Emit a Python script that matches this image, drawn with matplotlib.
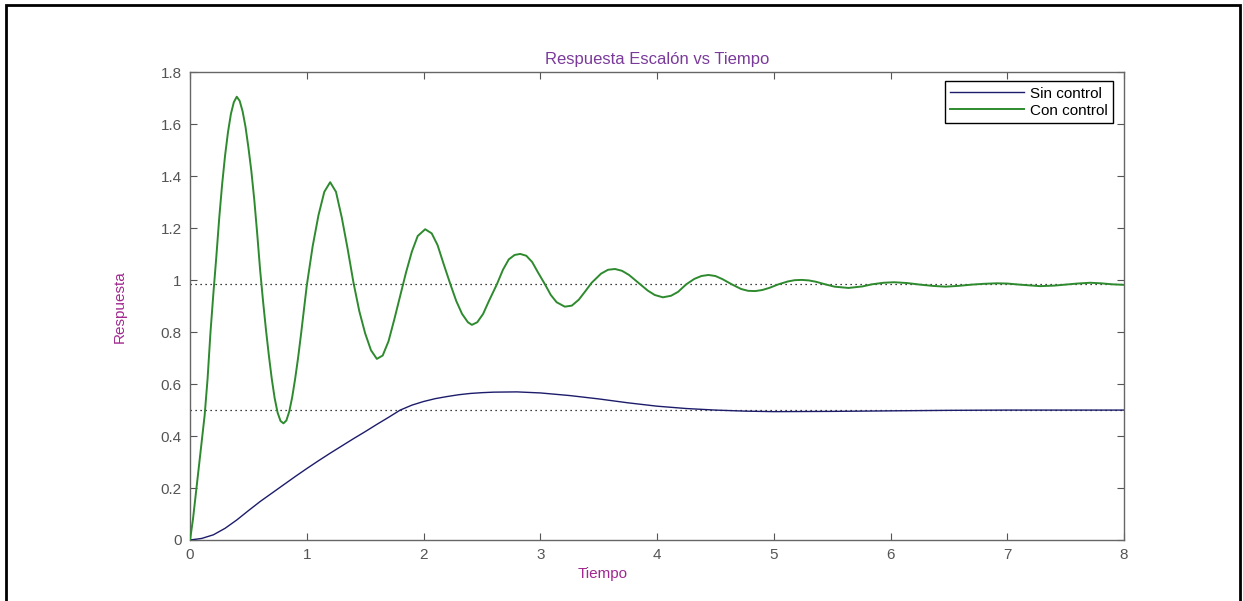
import numpy as np
import matplotlib
matplotlib.use("Agg")
import matplotlib.pyplot as plt
from matplotlib.patches import Rectangle

# lecturas del grafico original
t_sin = [0.0, 0.1, 0.2, 0.3, 0.4, 0.5, 0.6, 0.7, 0.8, 0.9, 1.0, 1.1, 1.2, 1.3,
         1.4, 1.5, 1.6, 1.7, 1.8, 1.9, 2.0, 2.1, 2.2, 2.3, 2.4, 2.5, 2.6, 2.8,
         3.0, 3.25, 3.5, 3.75, 4.0, 4.25, 4.5, 4.75, 5.0, 5.5, 6.0, 6.5, 7.0,
         7.5, 8.0]
y_sin = [0.0, 0.006, 0.02, 0.045, 0.077, 0.113, 0.148, 0.18, 0.212, 0.244,
         0.275, 0.305, 0.334, 0.362, 0.39, 0.417, 0.445, 0.472, 0.500, 0.519,
         0.533, 0.544, 0.552, 0.559, 0.564, 0.567, 0.569, 0.570, 0.566, 0.556,
         0.543, 0.528, 0.515, 0.506, 0.500, 0.496, 0.494, 0.495, 0.497, 0.499,
         0.500, 0.500, 0.500]

t_con = [0.0, 0.025, 0.05, 0.075, 0.10, 0.125, 0.15, 0.175, 0.20, 0.225, 0.25,
         0.275, 0.30, 0.325, 0.35, 0.375, 0.40, 0.425, 0.45, 0.475, 0.50, 0.525,
         0.55, 0.575, 0.60, 0.625, 0.65, 0.675, 0.70, 0.725, 0.75, 0.775, 0.80,
         0.825, 0.85, 0.875, 0.90, 0.925, 0.95, 1.00, 1.05, 1.10, 1.15, 1.20,
         1.25, 1.30, 1.35, 1.40, 1.45, 1.50, 1.55, 1.60, 1.65, 1.70, 1.75, 1.80,
         1.85, 1.90, 1.95, 2.014, 2.07, 2.12, 2.17, 2.23, 2.28, 2.33, 2.38,
         2.414, 2.46, 2.51, 2.56, 2.628, 2.68, 2.73, 2.78, 2.828, 2.88, 2.93,
         2.98, 3.04, 3.09, 3.14, 3.21, 3.27, 3.33, 3.39, 3.44, 3.52, 3.58, 3.64,
         3.70, 3.76, 3.84, 3.92, 3.98, 4.05, 4.12, 4.18, 4.25, 4.32, 4.38, 4.44,
         4.50, 4.56, 4.64, 4.72, 4.78, 4.84, 4.90, 4.96, 5.04, 5.12, 5.18, 5.24,
         5.30, 5.36, 5.44, 5.52, 5.64, 5.76, 5.84, 5.94, 6.03, 6.14, 6.25, 6.36,
         6.47, 6.58, 6.70, 6.80, 6.91, 7.00, 7.10, 7.28, 7.40, 7.50, 7.60, 7.71,
         7.80, 7.90, 8.0]
y_con = [0.0, 0.08, 0.18, 0.28, 0.38, 0.48, 0.62, 0.80, 0.95, 1.09, 1.24, 1.37,
         1.48, 1.57, 1.64, 1.685, 1.706, 1.69, 1.65, 1.59, 1.51, 1.42, 1.31,
         1.18, 1.04, 0.92, 0.81, 0.71, 0.62, 0.545, 0.49, 0.458, 0.449, 0.46,
         0.495, 0.55, 0.62, 0.70, 0.79, 0.98, 1.13, 1.25, 1.34, 1.377, 1.34,
         1.24, 1.12, 0.99, 0.88, 0.795, 0.73, 0.697, 0.71, 0.765, 0.85, 0.94,
         1.03, 1.11, 1.17, 1.196, 1.18, 1.135, 1.065, 0.984, 0.92, 0.87, 0.838,
         0.828, 0.838, 0.87, 0.92, 0.984, 1.04, 1.08, 1.097, 1.101, 1.094, 1.07,
         1.03, 0.984, 0.943, 0.915, 0.898, 0.902, 0.925, 0.96, 0.99, 1.025,
         1.04, 1.043, 1.036, 1.02, 0.99, 0.96, 0.943, 0.934, 0.94, 0.955, 0.984,
         1.005, 1.016, 1.020, 1.016, 1.004, 0.984, 0.966, 0.959, 0.958, 0.962,
         0.970, 0.984, 0.995, 1.0, 1.001, 0.999, 0.994, 0.984, 0.975, 0.970,
         0.976, 0.984, 0.990, 0.992, 0.989, 0.983, 0.978, 0.975, 0.978, 0.983,
         0.986, 0.988, 0.987, 0.983, 0.977, 0.979, 0.983, 0.987, 0.990, 0.988,
         0.984, 0.982]

finales = [0.984, 0.5]
etiquetas = ["Sin control", "Con control"]
xticks = [0, 1, 2, 3, 4, 5, 6, 7, 8]
yticks = [0, 0.2, 0.4, 0.6, 0.8, 1, 1.2, 1.4, 1.6, 1.8]
ytick_labels = ["0", "0.2", "0.4", "0.6", "0.8", "1", "1.2", "1.4", "1.6", "1.8"]

plt.rcParams['font.family'] = ['Liberation Sans', 'DejaVu Sans']

fig = plt.figure(figsize=(12.43, 6.01), dpi=100)
ax = fig.add_axes([0.1529, 0.1015, 0.7514, 0.7782])

for v in finales:
    ax.axhline(v, color='black', linestyle=(0, (1, 3)), linewidth=0.9, zorder=1)

ax.plot(t_sin, y_sin, color='#1c1c6b', linewidth=1.0, label=etiquetas[0], zorder=3)
ax.plot(t_con, y_con, color='#2e8a2e', linewidth=1.4, label=etiquetas[1], zorder=3)

ax.set_xlim(0, 8)
ax.set_ylim(0, 1.8)
ax.set_xticks(xticks)
ax.set_yticks(yticks)
ax.set_yticklabels(ytick_labels)
ax.tick_params(direction='in', length=5, top=True, right=True, colors='#555555',
               labelsize=11, labelcolor='#555555', pad=6)
for s in ax.spines.values():
    s.set_color('#666666')
    s.set_linewidth(1.0)

ax.set_title("Respuesta Escalón vs Tiempo", color='#7a3a9a', fontsize=12, pad=6)
ax.set_xlabel("Tiempo", color='#a02890', fontsize=11)
ax.xaxis.set_label_coords(0.442, -0.058)
ax.set_ylabel("Respuesta", color='#a02890', fontsize=11)
ax.yaxis.set_label_coords(-0.068, 0.5)

leg = ax.legend(loc='upper right', bbox_to_anchor=(0.988, 0.981), borderaxespad=0,
                fontsize=11, handlelength=4.8, handletextpad=0.4, fancybox=False,
                framealpha=1, borderpad=0.35, labelspacing=0.2)
leg.get_frame().set_edgecolor('black')
leg.get_frame().set_linewidth(1.0)

# marco exterior
fig.patches.append(Rectangle((6 / 1243, -0.02), 1234 / 1243, 1.02 - 5 / 601,
                             transform=fig.transFigure, fill=False,
                             edgecolor='black', linewidth=2))

fig.savefig("out.png", dpi=100)
